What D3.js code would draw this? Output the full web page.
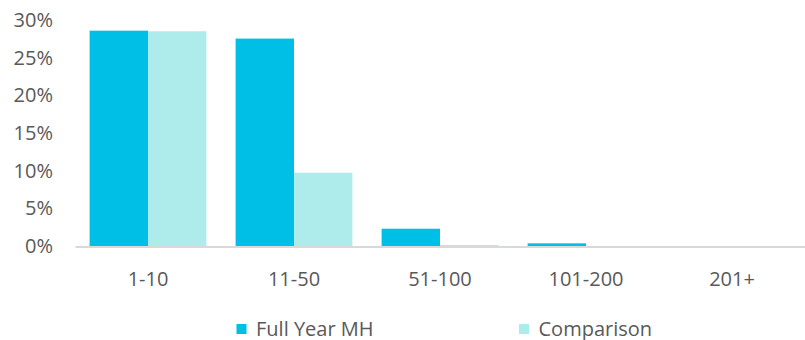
<!DOCTYPE html>
<html>
<head>
<meta charset="utf-8">
<script src="https://cdn.jsdelivr.net/npm/d3@7"></script>
<style>
  html, body { margin: 0; padding: 0; background: #fff; }
  svg { display: block; }
  text { font-family: "Open Sans", "Noto Sans", sans-serif; fill: #595959; }
</style>
</head>
<body>
<svg id="chart" width="805" height="340"></svg>
<script>
const categories = ["1-10", "11-50", "51-100", "101-200", "201+"];
const seriesNames = ["Full Year MH", "Comparison"];
const fullYearMH = [0.2865, 0.276, 0.0236, 0.0042, 0.0];
const comparison = [0.2857, 0.098, 0.002, 0.0002, 0.0];
const yTicks = [0, 0.05, 0.10, 0.15, 0.20, 0.25, 0.30];
const colors = ["#00BFE6", "#AEEBEB"];

const svg = d3.select("#chart");
const plotLeft = 75, plotRight = 805, plotTop = 20.5, plotBottom = 246.5;
const fontSize = 20;

const x = d3.scaleBand().domain(categories).range([plotLeft, plotRight]).paddingInner(0).paddingOuter(0);
const x1 = d3.scaleBand().domain(seriesNames).range([0, x.bandwidth()]).paddingInner(0).paddingOuter(0.25);
const y = d3.scaleLinear().domain([0, 0.30]).range([plotBottom, plotTop]);

const data = categories.map((c, i) => ({ cat: c, values: [fullYearMH[i], comparison[i]] }));

const groups = svg.append("g").selectAll("g").data(data).join("g")
  .attr("transform", d => `translate(${x(d.cat)},0)`);
groups.selectAll("rect").data(d => d.values.map((v, j) => ({ v, s: seriesNames[j], j })))
  .join("rect")
  .attr("x", d => x1(d.s))
  .attr("width", x1.bandwidth())
  .attr("y", d => y(d.v))
  .attr("height", d => y(0) - y(d.v))
  .attr("fill", d => colors[d.j]);

// y axis labels
const yAxis = d3.axisLeft(y).tickValues(yTicks).tickFormat(d3.format(".0%")).tickSize(0).tickPadding(0);
const yg = svg.append("g").attr("transform", "translate(53,0)").call(yAxis);
yg.select(".domain").remove();
yg.selectAll("text").attr("font-size", fontSize).attr("font-family", "Open Sans").attr("fill", "#595959")
  .attr("dy", "0.3em");

// x axis
const xAxis = d3.axisBottom(x).tickSize(0).tickPadding(0);
const xg = svg.append("g").attr("transform", `translate(0,${plotBottom})`).call(xAxis);
xg.select(".domain").attr("stroke", "#D9D9D9").attr("stroke-width", 2);
xg.selectAll("text").attr("font-size", fontSize).attr("font-family", "Open Sans").attr("fill", "#595959")
  .attr("dy", 0).attr("y", 39.5);

// legend
const legendX = [236.5, 519];
const lg = svg.append("g").selectAll("g").data(seriesNames).join("g")
  .attr("transform", (d, i) => `translate(${legendX[i]},324)`);
lg.append("rect").attr("width", 10).attr("height", 10).attr("fill", (d, i) => colors[i]);
lg.append("text").attr("x", 19.5).attr("y", 11.5).attr("font-size", fontSize).text(d => d);
</script>
</body>
</html>
